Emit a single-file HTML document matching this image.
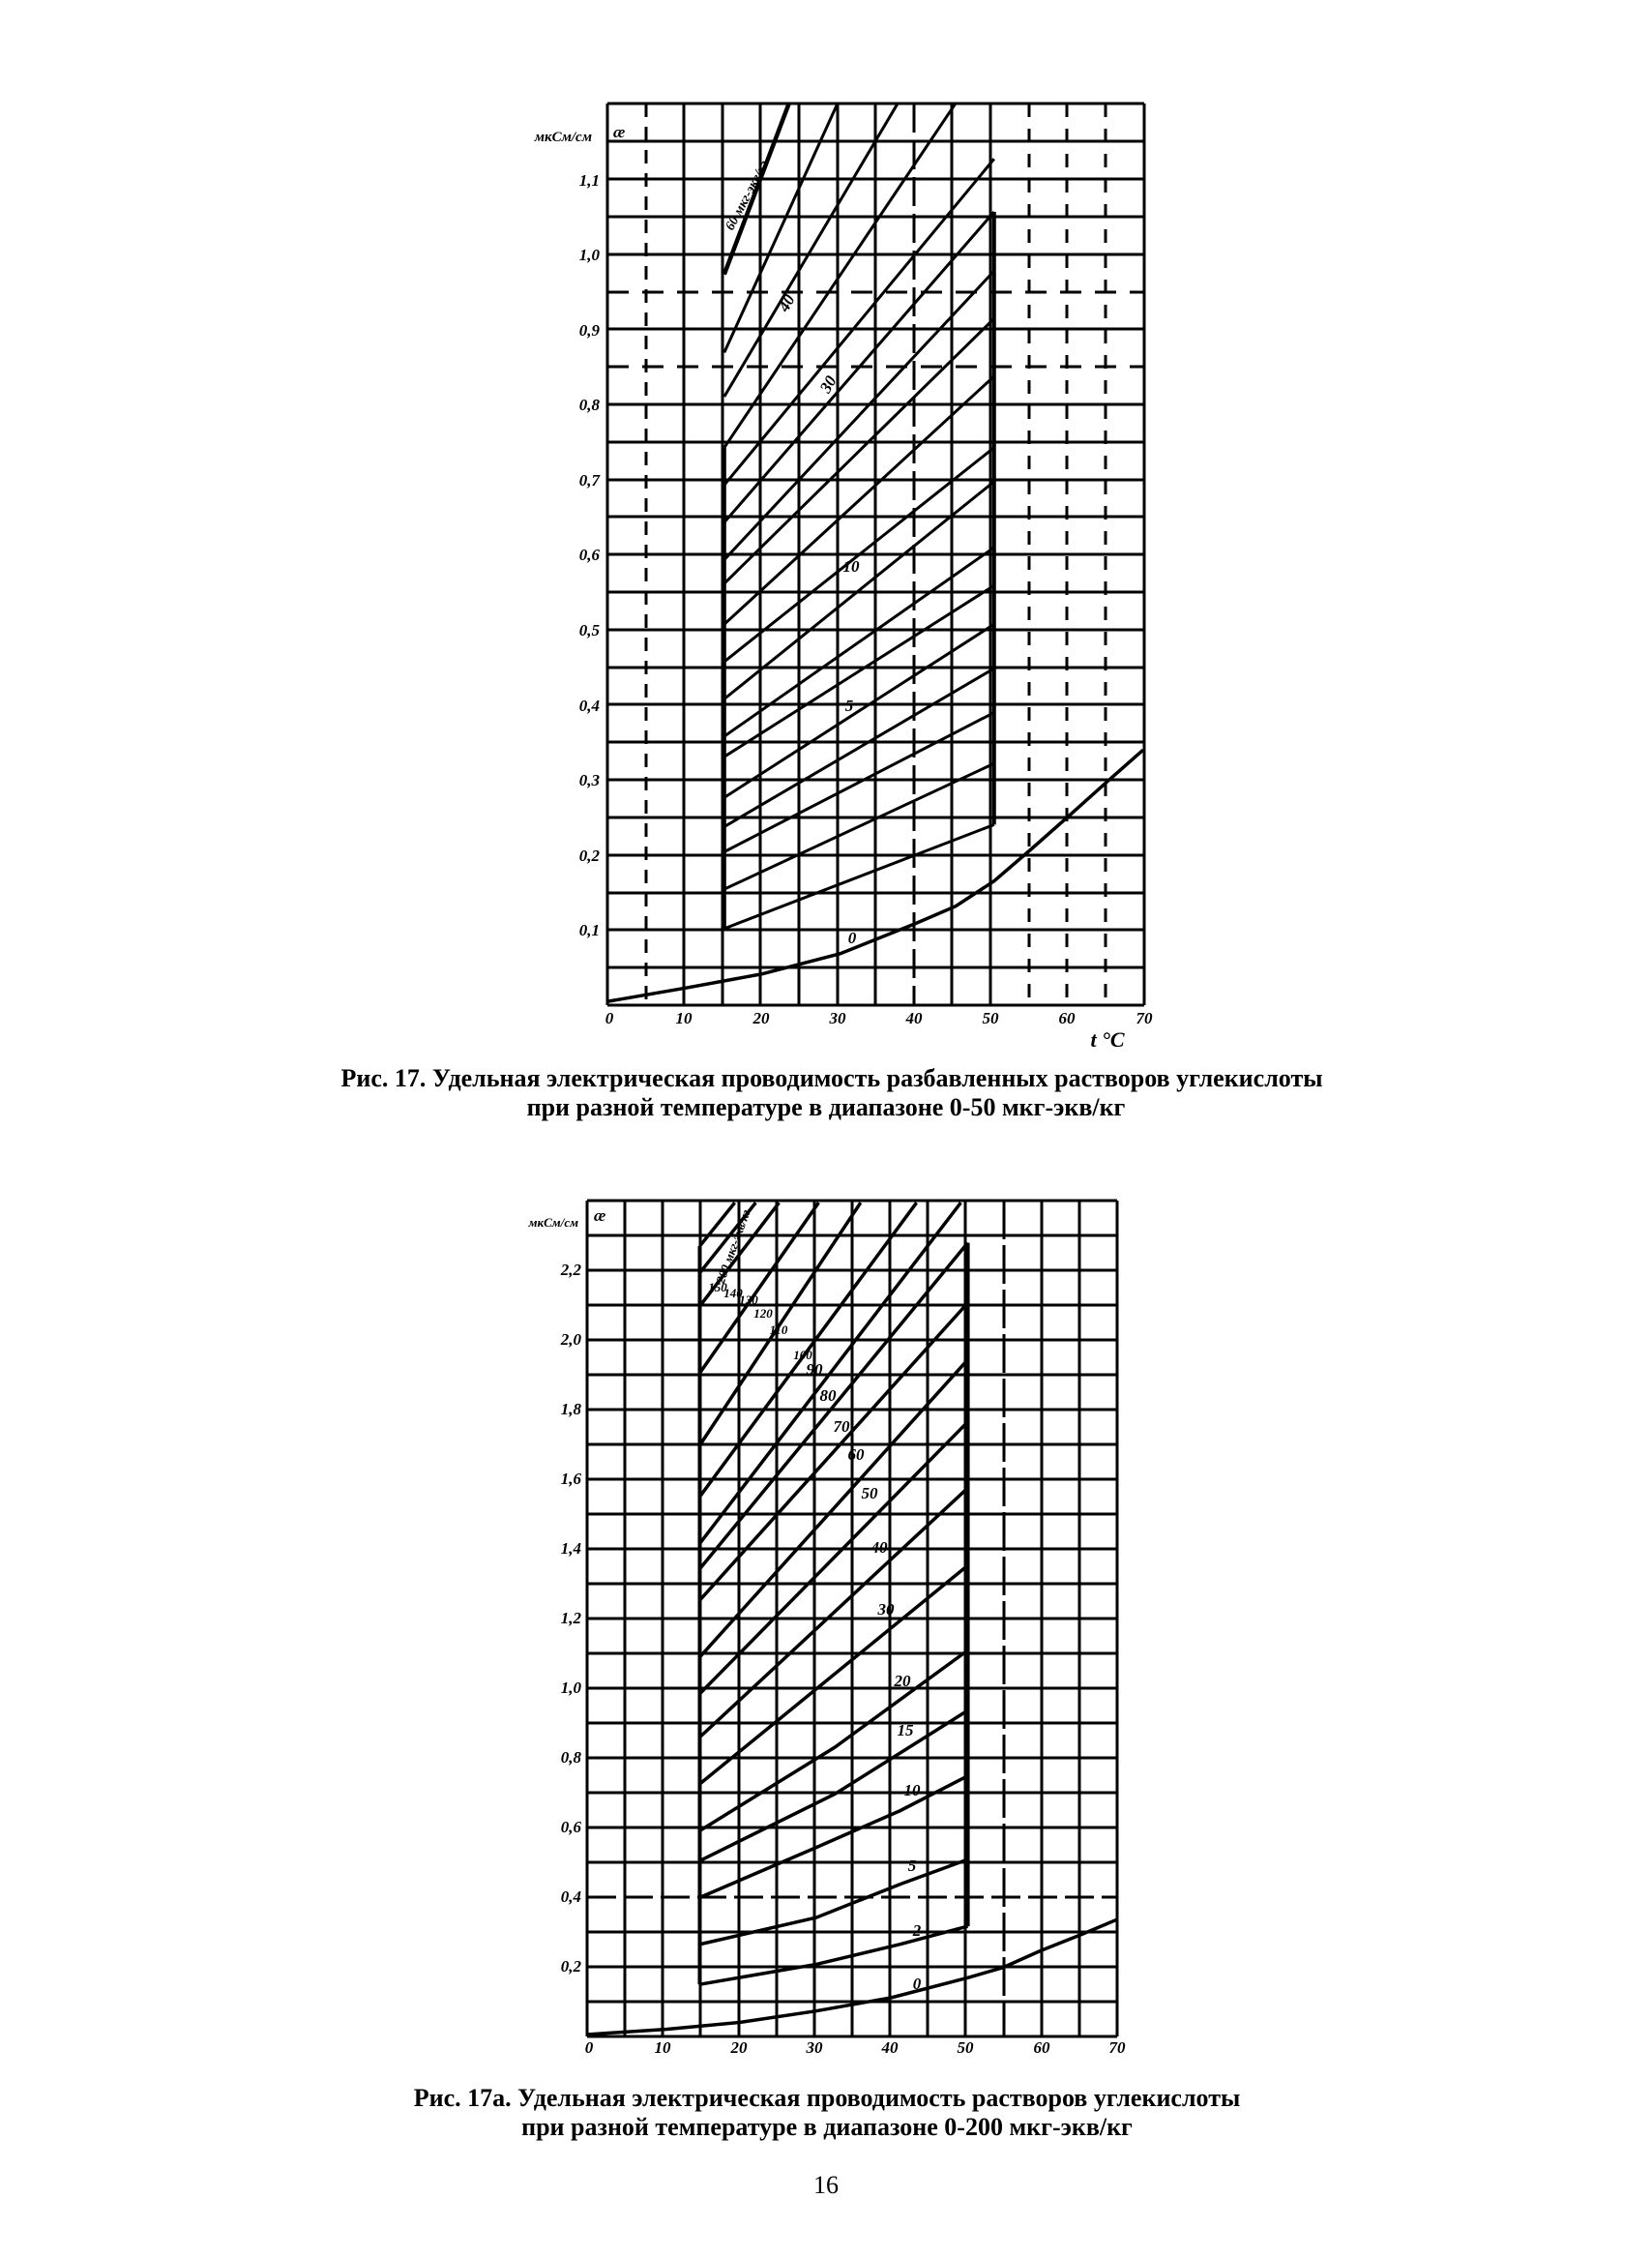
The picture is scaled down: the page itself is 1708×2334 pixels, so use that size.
<!DOCTYPE html>
<html><head><meta charset="utf-8"><style>
html,body{margin:0;padding:0;background:#fff;}
body{width:1708px;height:2334px;position:relative;overflow:hidden;}
svg{position:absolute;left:0;top:0;}
.cap{font-family:"Liberation Serif",serif;font-weight:bold;font-size:26px;fill:#000;}
.lab{font-family:"Liberation Serif",serif;font-weight:bold;font-style:italic;font-size:17px;fill:#000;}
</style></head><body>
<svg width="1708" height="2334" viewBox="0 0 1708 2334">
<g stroke="#000" stroke-width="3" fill="none">
<line x1="628" y1="107" x2="628" y2="1039"/>
<line x1="668" y1="107" x2="668" y2="1039" stroke-dasharray="14 10"/>
<line x1="707" y1="107" x2="707" y2="1039"/>
<line x1="747" y1="107" x2="747" y2="1039"/>
<line x1="786" y1="107" x2="786" y2="1039"/>
<line x1="826" y1="107" x2="826" y2="1039"/>
<line x1="866" y1="107" x2="866" y2="1039"/>
<line x1="905" y1="107" x2="905" y2="1039"/>
<line x1="945" y1="107" x2="945" y2="1039" stroke-dasharray="30 8"/>
<line x1="984" y1="107" x2="984" y2="1039"/>
<line x1="1024" y1="107" x2="1024" y2="1039"/>
<line x1="1064" y1="107" x2="1064" y2="1039" stroke-dasharray="14 12"/>
<line x1="1103" y1="107" x2="1103" y2="1039" stroke-dasharray="14 12"/>
<line x1="1143" y1="107" x2="1143" y2="1039" stroke-dasharray="14 12"/>
<line x1="1183" y1="107" x2="1183" y2="1039"/>
<line x1="628" y1="1039" x2="1183" y2="1039"/>
<line x1="628" y1="1000" x2="1183" y2="1000"/>
<line x1="628" y1="961" x2="1183" y2="961"/>
<line x1="628" y1="923" x2="1183" y2="923"/>
<line x1="628" y1="884" x2="1183" y2="884"/>
<line x1="628" y1="845" x2="1183" y2="845"/>
<line x1="628" y1="806" x2="1183" y2="806"/>
<line x1="628" y1="767" x2="1183" y2="767"/>
<line x1="628" y1="728" x2="1183" y2="728"/>
<line x1="628" y1="690" x2="1183" y2="690"/>
<line x1="628" y1="651" x2="1183" y2="651"/>
<line x1="628" y1="612" x2="1183" y2="612"/>
<line x1="628" y1="573" x2="1183" y2="573"/>
<line x1="628" y1="534" x2="1183" y2="534"/>
<line x1="628" y1="496" x2="1183" y2="496"/>
<line x1="628" y1="457" x2="1183" y2="457"/>
<line x1="628" y1="418" x2="1183" y2="418"/>
<line x1="628" y1="379" x2="1183" y2="379" stroke-dasharray="22 14"/>
<line x1="628" y1="340" x2="1183" y2="340"/>
<line x1="628" y1="302" x2="1183" y2="302" stroke-dasharray="22 14"/>
<line x1="628" y1="263" x2="1183" y2="263"/>
<line x1="628" y1="224" x2="1183" y2="224"/>
<line x1="628" y1="185" x2="1183" y2="185"/>
<line x1="628" y1="146" x2="1183" y2="146"/>
<line x1="628" y1="107" x2="1183" y2="107"/>

<line x1="607" y1="1241" x2="607" y2="2105"/>
<line x1="646" y1="1241" x2="646" y2="2105"/>
<line x1="685" y1="1241" x2="685" y2="2105"/>
<line x1="724" y1="1241" x2="724" y2="2105"/>
<line x1="764" y1="1241" x2="764" y2="2105"/>
<line x1="803" y1="1241" x2="803" y2="2105"/>
<line x1="842" y1="1241" x2="842" y2="2105"/>
<line x1="881" y1="1241" x2="881" y2="2105"/>
<line x1="920" y1="1241" x2="920" y2="2105"/>
<line x1="959" y1="1241" x2="959" y2="2105"/>
<line x1="998" y1="1241" x2="998" y2="2105"/>
<line x1="1038" y1="1241" x2="1038" y2="2105" stroke-dasharray="40 6"/>
<line x1="1077" y1="1241" x2="1077" y2="2105"/>
<line x1="1116" y1="1241" x2="1116" y2="2105"/>
<line x1="1155" y1="1241" x2="1155" y2="2105"/>
</g>
<g stroke="#000" stroke-width="3" fill="none">
<line x1="607" y1="2105" x2="1155" y2="2105"/>
<line x1="607" y1="2069" x2="1155" y2="2069"/>
<line x1="607" y1="2033" x2="1155" y2="2033"/>
<line x1="607" y1="1997" x2="1155" y2="1997"/>
<line x1="607" y1="1961" x2="1155" y2="1961" stroke-dasharray="30 8"/>
<line x1="607" y1="1925" x2="1155" y2="1925"/>
<line x1="607" y1="1889" x2="1155" y2="1889"/>
<line x1="607" y1="1853" x2="1155" y2="1853"/>
<line x1="607" y1="1817" x2="1155" y2="1817"/>
<line x1="607" y1="1781" x2="1155" y2="1781"/>
<line x1="607" y1="1745" x2="1155" y2="1745"/>
<line x1="607" y1="1709" x2="1155" y2="1709"/>
<line x1="607" y1="1673" x2="1155" y2="1673"/>
<line x1="607" y1="1637" x2="1155" y2="1637"/>
<line x1="607" y1="1601" x2="1155" y2="1601"/>
<line x1="607" y1="1565" x2="1155" y2="1565"/>
<line x1="607" y1="1529" x2="1155" y2="1529"/>
<line x1="607" y1="1493" x2="1155" y2="1493"/>
<line x1="607" y1="1457" x2="1155" y2="1457"/>
<line x1="607" y1="1421" x2="1155" y2="1421"/>
<line x1="607" y1="1385" x2="1155" y2="1385"/>
<line x1="607" y1="1349" x2="1155" y2="1349"/>
<line x1="607" y1="1313" x2="1155" y2="1313"/>
<line x1="607" y1="1277" x2="1155" y2="1277"/>
<line x1="607" y1="1241" x2="1155" y2="1241"/>
</g>

<g transform="matrix(0.4785,0,0,0.7022,500,80)" stroke="#000" fill="none">
<polyline vector-effect="non-scaling-stroke" stroke-width="3.5" points="270,1360 440,1340 600,1320 770,1290 935,1245 1020,1220 1103,1183 1185,1135 1268,1085 1350,1035 1425,990"/>
<line vector-effect="non-scaling-stroke" stroke-width="3" x1="520" y1="1253" x2="1103" y2="1100"/>
<line vector-effect="non-scaling-stroke" stroke-width="3" x1="520" y1="1195" x2="1103" y2="1010"/>
<line vector-effect="non-scaling-stroke" stroke-width="3" x1="520" y1="1140" x2="1103" y2="935"/>
<line vector-effect="non-scaling-stroke" stroke-width="3" x1="520" y1="1103" x2="1103" y2="870"/>
<line vector-effect="non-scaling-stroke" stroke-width="3" x1="520" y1="1060" x2="1103" y2="805"/>
<line vector-effect="non-scaling-stroke" stroke-width="3" x1="520" y1="1000" x2="1103" y2="748"/>
<line vector-effect="non-scaling-stroke" stroke-width="3" x1="520" y1="970" x2="1103" y2="692"/>
<line vector-effect="non-scaling-stroke" stroke-width="3" x1="520" y1="915" x2="1103" y2="595"/>
<line vector-effect="non-scaling-stroke" stroke-width="3" x1="520" y1="860" x2="1103" y2="545"/>
<line vector-effect="non-scaling-stroke" stroke-width="3" x1="520" y1="805" x2="1103" y2="440"/>
<line vector-effect="non-scaling-stroke" stroke-width="3" x1="520" y1="745" x2="1103" y2="355"/>
<line vector-effect="non-scaling-stroke" stroke-width="3" x1="520" y1="710" x2="1103" y2="285"/>
<line vector-effect="non-scaling-stroke" stroke-width="3" x1="520" y1="655" x2="1103" y2="198"/>
<line vector-effect="non-scaling-stroke" stroke-width="3" x1="520" y1="600" x2="1103" y2="120"/>
<line vector-effect="non-scaling-stroke" stroke-width="3" x1="520" y1="545" x2="1020" y2="38"/>
<line vector-effect="non-scaling-stroke" stroke-width="3" x1="520" y1="470" x2="895" y2="38"/>
<line vector-effect="non-scaling-stroke" stroke-width="3" x1="520" y1="405" x2="765" y2="38"/>
<line vector-effect="non-scaling-stroke" stroke-width="4.5" x1="520" y1="290" x2="660" y2="38"/>
<line vector-effect="non-scaling-stroke" stroke-width="4" x1="520" y1="1253" x2="520" y2="545"/>
<line vector-effect="non-scaling-stroke" stroke-width="4" x1="1103" y1="1100" x2="1103" y2="198"/>
</g>

<g transform="matrix(0.4819,0,0,0.6906,497,1219)" stroke="#000" fill="none">
<polyline vector-effect="non-scaling-stroke" stroke-width="3.5" points="228,1280 400,1272 555,1262 718,1245 880,1225 1045,1195 1120,1180 1200,1155 1290,1130 1365,1108"/>
<polyline vector-effect="non-scaling-stroke" stroke-width="3.5" points="470,1205 720,1175 900,1145 1045,1118"/>
<polyline vector-effect="non-scaling-stroke" stroke-width="3.5" points="470,1145 720,1105 900,1055 1045,1018"/>
<polyline vector-effect="non-scaling-stroke" stroke-width="3.5" points="470,1075 720,1000 900,945 1045,893"/>
<polyline vector-effect="non-scaling-stroke" stroke-width="3.5" points="470,1020 760,920 1045,795"/>
<polyline vector-effect="non-scaling-stroke" stroke-width="3.5" points="470,975 760,850 1045,705"/>
<line vector-effect="non-scaling-stroke" stroke-width="3.5" x1="470" y1="905" x2="1045" y2="578"/>
<line vector-effect="non-scaling-stroke" stroke-width="3.5" x1="470" y1="835" x2="1045" y2="462"/>
<line vector-effect="non-scaling-stroke" stroke-width="3.5" x1="470" y1="770" x2="1045" y2="363"/>
<line vector-effect="non-scaling-stroke" stroke-width="3.5" x1="470" y1="715" x2="1045" y2="270"/>
<line vector-effect="non-scaling-stroke" stroke-width="3.5" x1="470" y1="630" x2="1045" y2="185"/>
<line vector-effect="non-scaling-stroke" stroke-width="3.5" x1="470" y1="583" x2="1045" y2="95"/>
<line vector-effect="non-scaling-stroke" stroke-width="3.5" x1="470" y1="545" x2="1030" y2="35"/>
<line vector-effect="non-scaling-stroke" stroke-width="3.5" x1="470" y1="475" x2="935" y2="35"/>
<line vector-effect="non-scaling-stroke" stroke-width="3.5" x1="470" y1="398" x2="815" y2="35"/>
<line vector-effect="non-scaling-stroke" stroke-width="3.5" x1="470" y1="290" x2="725" y2="35"/>
<line vector-effect="non-scaling-stroke" stroke-width="3.5" x1="470" y1="190" x2="640" y2="35"/>
<line vector-effect="non-scaling-stroke" stroke-width="3.5" x1="470" y1="140" x2="590" y2="35"/>
<line vector-effect="non-scaling-stroke" stroke-width="3.5" x1="470" y1="100" x2="545" y2="35"/>
<line vector-effect="non-scaling-stroke" stroke-width="4" x1="470" y1="1205" x2="470" y2="100"/>
<line vector-effect="non-scaling-stroke" stroke-width="4" x1="1045" y1="1118" x2="1045" y2="95"/>
</g>

<g class="lab" text-anchor="end">
<text x="620" y="192">1,1</text>
<text x="620" y="269">1,0</text>
<text x="620" y="347">0,9</text>
<text x="620" y="424">0,8</text>
<text x="620" y="502">0,7</text>
<text x="620" y="579">0,6</text>
<text x="620" y="657">0,5</text>
<text x="620" y="735">0,4</text>
<text x="620" y="812">0,3</text>
<text x="620" y="890">0,2</text>
<text x="620" y="967">0,1</text>
<text x="612" y="146" font-size="15">мкСм/см</text>
</g>
<text class="lab" x="634" y="142" font-size="20">æ</text>
<g class="lab" text-anchor="middle">
<text x="630" y="1058">0</text>
<text x="707" y="1058">10</text>
<text x="787" y="1058">20</text>
<text x="866" y="1058">30</text>
<text x="945" y="1058">40</text>
<text x="1024" y="1058">50</text>
<text x="1103" y="1058">60</text>
<text x="1183" y="1058">70</text>
<text x="1145" y="1082" font-size="22">t °C</text>
<text x="881" y="975">0</text>
<text x="878" y="735">5</text>
<text x="880" y="591">10</text>
<text transform="translate(861,400) rotate(-60)">30</text>
<text transform="translate(818,316) rotate(-60)">40</text>
<text transform="translate(776,204) rotate(-62)" font-size="14">60 мкг-экв/кг</text>
</g>

<g class="lab" text-anchor="end">
<text x="601" y="2038">0,2</text>
<text x="601" y="1966">0,4</text>
<text x="601" y="1894">0,6</text>
<text x="601" y="1822">0,8</text>
<text x="601" y="1750">1,0</text>
<text x="601" y="1678">1,2</text>
<text x="601" y="1606">1,4</text>
<text x="601" y="1534">1,6</text>
<text x="601" y="1462">1,8</text>
<text x="601" y="1390">2,0</text>
<text x="601" y="1318">2,2</text>
<text x="598" y="1268" font-size="13">мкСм/см</text>
</g>
<text class="lab" x="614" y="1262" font-size="20">æ</text>
<g class="lab" text-anchor="middle">
<text x="609" y="2122">0</text>
<text x="685" y="2122">10</text>
<text x="764" y="2122">20</text>
<text x="842" y="2122">30</text>
<text x="920" y="2122">40</text>
<text x="998" y="2122">50</text>
<text x="1077" y="2122">60</text>
<text x="1155" y="2122">70</text>
<text x="948" y="2056">0</text>
<text x="948" y="2001">2</text>
<text x="943" y="1934">5</text>
<text x="943" y="1856">10</text>
<text x="936" y="1794">15</text>
<text x="933" y="1743">20</text>
<text x="916" y="1669">30</text>
<text x="909" y="1605">40</text>
<text x="899" y="1549">50</text>
<text x="885" y="1509">60</text>
<text x="870" y="1480">70</text>
<text x="856" y="1448">80</text>
<text x="842" y="1421">90</text>
<text x="830" y="1405" font-size="13">100</text>
<text x="805" y="1379" font-size="13">110</text>
<text x="789" y="1362" font-size="13">120</text>
<text x="774" y="1348" font-size="13">130</text>
<text x="758" y="1341" font-size="13">140</text>
<text x="742" y="1335" font-size="13">150</text>
<text transform="translate(762,1290) rotate(-70)" font-size="13">200 мкг-экв/кг</text>
</g>

<g class="cap" text-anchor="middle">
<text x="860" y="1123">Рис. 17. Удельная электрическая проводимость разбавленных растворов углекислоты</text>
<text x="854" y="1153">при разной температуре в диапазоне 0-50 мкг-экв/кг</text>
<text x="855" y="2177">Рис. 17а. Удельная электрическая проводимость растворов углекислоты</text>
<text x="855" y="2207">при разной температуре в диапазоне 0-200 мкг-экв/кг</text>
<text x="854" y="2267" font-weight="normal">16</text>
</g>
</svg>
</body></html>
